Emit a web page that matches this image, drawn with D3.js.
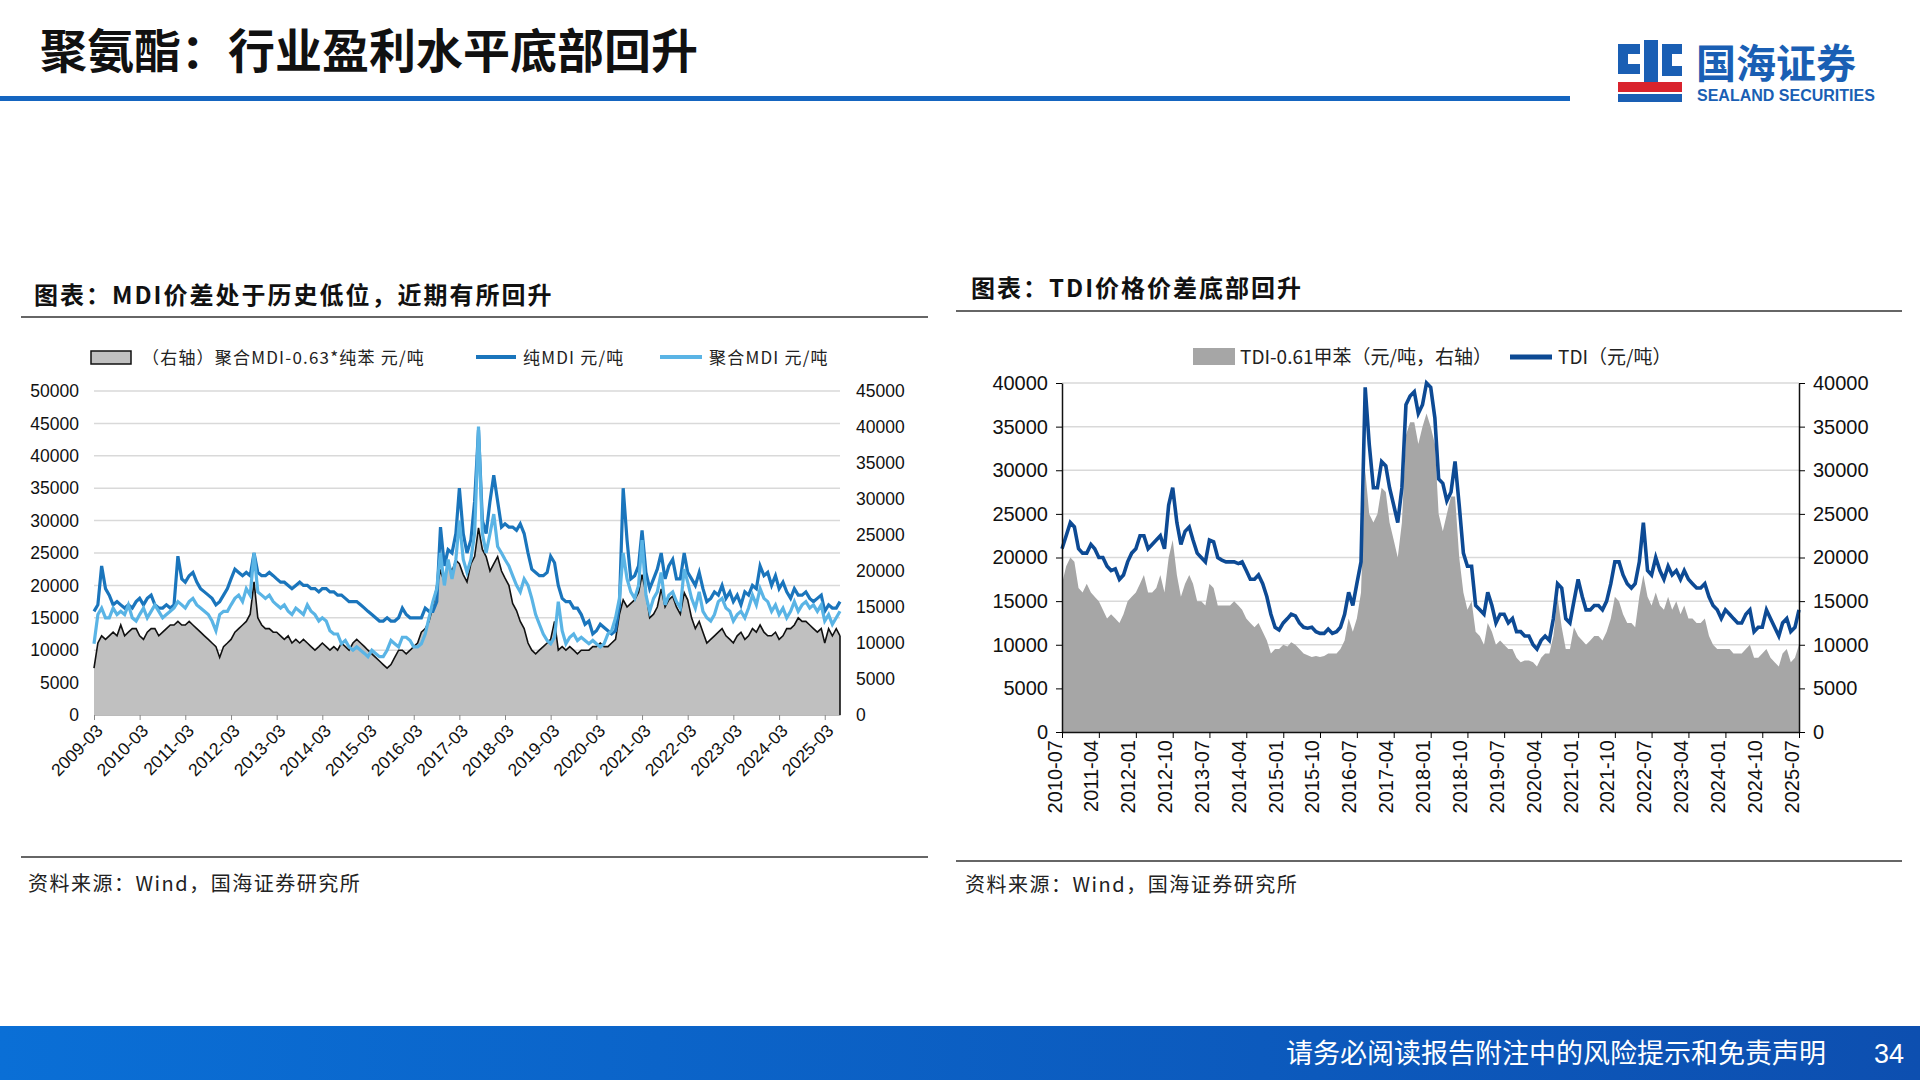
<!DOCTYPE html>
<html><head><meta charset="utf-8">
<script src="https://cdn.jsdelivr.net/npm/d3@7"></script>
<style>body{margin:0;background:#fff;}svg{display:block;font-family:"Noto Sans CJK SC","Noto Sans",sans-serif;}</style>
</head><body><svg id="c" width="1920" height="1080"></svg>
<script>
// ===== MDI chart data (monthly from 2009-03) =====
const mdiStart = "2009-03";
const pureMDI = [16000,17000,23000,19500,18500,17000,17500,17000,16500,17000,
16500,17500,18000,17000,18000,18500,17000,16500,16500,17000,16500,17000,
24500,21000,20500,21500,22000,20500,19500,19000,18500,18000,17000,17500,
18500,19500,21000,22500,22000,21500,22000,21500,25000,22000,21500,21500,
22000,21500,21000,20500,20500,20000,19500,20000,20500,20000,20000,19500,
19500,19000,19500,19500,19000,19000,18500,18500,18000,17500,17500,17500,
17000,16500,16000,15500,15000,14500,14500,15000,14500,14500,15000,16500,
15500,15000,15000,15000,15000,16500,16000,16000,17500,29000,23000,25500,
25000,28000,35000,28000,25000,27000,33000,44000,30000,28000,33000,37000,
33000,29000,29500,29000,29000,28500,29500,28000,25000,22500,22000,21500,
21500,22000,24500,23500,20000,18000,17500,17500,16500,16500,15500,14000,
14500,12500,13000,14000,13500,13000,12500,13000,17000,35000,27000,21000,
21500,23000,28500,22000,19500,21000,22500,25000,21000,23000,24000,21000,
21000,25000,22000,21000,20000,22000,19500,17500,18000,19000,18500,20000,
18000,19000,17500,18500,17000,19000,18500,20000,19500,23000,21500,22000,
20000,21500,19500,20500,19000,18000,19500,18500,18500,19000,18000,17500,
18000,18500,16000,17000,16500,16500,17500];
const polyMDI = [11000,15500,16500,15000,15000,16500,15500,16000,15500,17000,
15000,14500,15500,16500,15000,16000,17000,16000,15000,15500,16000,16500,
17500,17000,16500,17500,18000,17000,16500,16000,15500,14500,13000,15500,
16000,16000,17000,18000,18500,17500,19500,18500,25000,19000,18500,18000,
18500,17500,17000,16500,17000,16000,15500,16500,16000,15500,17000,16000,
15500,14500,15000,14500,13000,12500,12500,11000,11500,10500,10000,10500,
10000,9500,9000,10000,9500,9000,9000,10000,11500,11000,10500,12000,
12000,11500,10500,10500,11000,12500,15000,17500,19500,25000,20000,24000,
21000,24000,30000,24000,22000,24000,28000,44500,28000,25000,28000,31000,
26000,25000,24000,23000,21500,20000,19000,21000,20000,18000,15500,14000,
12500,11500,11000,12000,17500,13000,11000,12000,12500,11500,12000,11500,
11000,11500,11000,10500,11000,12500,13000,15000,18000,25000,21000,19000,
18000,20000,27000,18500,16000,18000,19000,22000,17000,18500,19000,17500,
16500,22500,20500,18000,16500,19000,16000,15000,14500,15500,17500,18000,
16500,16000,14500,15500,16000,15000,16500,18500,17000,19500,18000,17500,
16000,17000,15500,16500,15000,16000,17500,16000,17000,17500,16500,17000,
16000,17000,14500,15500,14000,15000,16000];
const spreadMDI = [6500,10000,11000,10500,11000,11500,11000,12500,11000,11500,
12000,12000,11000,10500,11500,12000,12000,11000,11500,12000,12500,12500,
13000,12500,12500,13000,12500,12000,11500,11000,10500,10000,9500,8000,
9500,10000,10500,11500,12000,12500,13000,14000,18500,13500,12500,12000,
12000,11500,11500,11000,10500,11000,10000,10500,10000,10500,10000,9500,
9000,9500,10000,9500,9000,9500,9000,10000,9500,9000,10000,10500,
10000,9500,9000,8500,8000,7500,7000,6500,7000,8000,9000,9000,
8500,9000,9500,10000,11500,12000,13000,15000,18000,20000,18500,21000,
20000,21500,21000,19500,18500,21000,22000,26000,23000,22000,20000,21000,
22000,20000,19000,18000,15500,14500,13000,12000,10000,9000,8500,9000,
9500,10000,10500,13000,9000,9500,9000,9500,9000,8500,9000,9000,
9000,9500,9500,10000,9500,9500,10000,10500,14000,16000,15000,15500,
16000,17000,19500,17000,13500,14000,15000,17500,15000,16000,16500,15000,
14000,17000,16000,13500,12000,13000,11500,10000,10500,11000,11500,12000,
11000,10500,10000,11000,11500,10500,11000,12000,11500,12500,11500,11000,
11000,11500,10500,11000,12000,12000,12500,13500,13000,13000,12500,12000,
11500,12000,10000,12000,11000,12000,11000];
const mdiTicks = ["2009-03","2010-03","2011-03","2012-03","2013-03","2014-03","2015-03","2016-03","2017-03","2018-03","2019-03","2020-03","2021-03","2022-03","2023-03","2024-03","2025-03"];
const mdiLegend = ["（右轴）聚合MDI-0.63*纯苯 元/吨","纯MDI 元/吨","聚合MDI 元/吨"];

// ===== TDI chart data (monthly from 2010-07) =====
const tdiStart = "2010-07";
const tdiPrice = [21000,22500,24000,23500,21000,20500,
20500,21500,21000,20000,20000,19000,18500,18700,17500,18000,19500,20500,
21000,22500,22500,21000,21500,22000,22500,21000,26000,28000,24000,21500,
23000,23500,22000,20500,20000,19500,22000,21800,20000,19700,19500,19500,
19500,19300,19500,18500,17500,17500,18000,17000,15500,13500,12000,11700,
12500,13000,13500,13300,12500,12000,11900,12000,11500,11300,11300,11800,
11300,11500,12000,13500,16000,14500,17000,19500,39500,33000,28000,28000,
31000,30500,28000,26000,24000,28000,37500,38500,39000,36500,37500,40000,
39500,36000,29000,28500,26500,27500,31000,26000,20500,19000,19000,14500,
14000,13500,16000,14500,12500,13500,13500,12500,13000,11500,11500,11000,
11000,10000,9500,10500,11000,10500,13000,17000,16500,13000,12500,15000,
17500,15500,14000,14000,14500,14500,14000,15000,17000,19500,19500,18000,
17000,16500,17000,19500,24000,18500,18000,20000,18500,17500,19000,18000,
18500,17500,18500,17500,17000,16500,16500,17000,15500,14500,14000,13000,
14000,13500,13000,12500,12500,13500,14000,11500,12000,12000,14000,13000,
12000,11000,12500,13000,11500,12000,14000];
const tdiSpread = [17000,19000,20000,19500,16500,16000,
17000,16000,15500,15000,14000,13000,13500,13000,12500,13500,15000,15500,
16000,17000,18000,16000,16000,16500,18000,16000,20000,22000,18000,15500,
17000,18000,17000,15000,15000,14500,17000,16500,14500,14500,14500,14500,
15000,14500,14000,13000,12500,12000,12500,11500,10500,9000,9500,9500,
10000,9800,10300,10000,9500,9000,8800,8600,8700,8600,8700,9000,
9000,9000,9500,10500,13000,11500,13000,16000,30000,25000,24000,25000,
28000,27500,24000,22000,20000,24000,34000,35500,35500,33000,35000,36500,
35000,33000,25000,23000,25000,27000,27000,20000,16000,14000,15000,11500,
11000,10000,12500,11500,10000,10500,10000,9500,9500,8500,8000,8200,
8200,8000,7500,8500,9000,9000,11000,15500,12000,9500,9500,12000,
11000,10500,10000,10500,11000,11000,10500,11500,13000,15500,15000,13500,
12500,12500,12000,15500,18000,15500,14500,16000,14500,14000,15500,14000,
15000,13500,14500,13000,13000,12500,12500,13000,11000,10000,9500,9500,
9500,9500,9000,9000,9000,9500,10000,8500,8500,9000,9500,8500,
8000,7500,9000,9500,8000,8500,10000];
const tdiTicks = ["2010-07","2011-04","2012-01","2012-10","2013-07","2014-04","2015-01","2015-10","2016-07","2017-04","2018-01","2018-10","2019-07","2020-04","2021-01","2021-10","2022-07","2023-04","2024-01","2024-10","2025-07"];
const tdiLegend = ["TDI-0.61甲苯（元/吨，右轴）","TDI（元/吨）"];

const svg = d3.select("#c");
const parse = d3.timeParse("%Y-%m");
const monthSeq = (start, n) => d3.range(n).map(i => d3.timeMonth.offset(parse(start), i));
const SANS = "Arial, 'Liberation Sans', 'Noto Sans CJK SC', sans-serif";
const SERIF = "'Noto Sans CJK SC', sans-serif";
const fmt = d3.format("d");

// ===== header =====
svg.append("text").attr("x",40).attr("y",68).attr("font-size",47).attr("font-weight",700)
  .attr("font-family",SERIF).attr("fill","#111").text("聚氨酯：行业盈利水平底部回升");
svg.append("rect").attr("x",0).attr("y",96).attr("width",1570).attr("height",5).attr("fill","#1565c0");
const lg = svg.append("g").attr("transform","translate(1616,38)");
lg.append("path").attr("d","M2,6 h22 v10 h-12 v10 h12 v10 h-22 z M28,2 h14 v42 h-14 z M46,6 h20 v10 h-10 v12 h10 v10 h-20 z").attr("fill","#1a5fb4");
lg.append("rect").attr("x",2).attr("y",44).attr("width",64).attr("height",10).attr("fill","#d9232d");
lg.append("rect").attr("x",2).attr("y",56).attr("width",64).attr("height",8).attr("fill","#1a5fb4");
lg.append("text").attr("x",80).attr("y",40).attr("font-size",40).attr("font-weight",700).attr("fill","#1a5fb4").attr("font-family",SERIF).text("国海证券");
lg.append("text").attr("x",81).attr("y",63).attr("font-size",16).attr("font-weight",700).attr("fill","#1a5fb4").attr("font-family",SANS).text("SEALAND SECURITIES");
const grad = svg.append("defs").append("linearGradient").attr("id","fg");
grad.append("stop").attr("offset","0").attr("stop-color","#0a6fd6");
grad.append("stop").attr("offset","1").attr("stop-color","#0d4fb0");
svg.append("rect").attr("x",0).attr("y",1026).attr("width",1920).attr("height",54).attr("fill","url(#fg)");
svg.append("text").attr("x",1826).attr("y",1063).attr("text-anchor","end").attr("font-size",27).attr("fill","#fff").attr("font-family",SERIF).text("请务必阅读报告附注中的风险提示和免责声明");
svg.append("text").attr("x",1904).attr("y",1063).attr("text-anchor","end").attr("font-size",27).attr("fill","#fff").attr("font-family",SANS).text("34");

function section(x, y, x1, x2, ly, title, by, srcY){
  svg.append("text").attr("x",x).attr("y",y).attr("font-size",24).attr("font-weight",700).attr("letter-spacing",2).attr("font-family",SERIF).attr("fill","#111").text(title);
  svg.append("line").attr("x1",x1).attr("x2",x2).attr("y1",ly).attr("y2",ly).attr("stroke","#333").attr("stroke-width",1.5);
  svg.append("line").attr("x1",x1).attr("x2",x2).attr("y1",by).attr("y2",by).attr("stroke","#333").attr("stroke-width",1.5);
  svg.append("text").attr("x",x-6).attr("y",srcY).attr("font-size",20).attr("letter-spacing",1.5).attr("font-family",SERIF).attr("fill","#222").text("资料来源：Wind，国海证券研究所");
}
section(34,304,21,928,317,"图表：MDI价差处于历史低位，近期有所回升",857,891);
section(971,297,956,1902,311,"图表：TDI价格价差底部回升",861,892);

// ===== MDI chart =====
(function(){
  const L=94,R=840,T=391,B=715;
  const dates = monthSeq(mdiStart, pureMDI.length);
  const x = d3.scaleTime().domain([dates[0], dates[dates.length-1]]).range([L,R]);
  const yL = d3.scaleLinear().domain([0,50000]).range([B,T]);
  const yR = d3.scaleLinear().domain([0,45000]).range([B,T]);
  const g = svg.append("g");
  yL.ticks(10).forEach(v=>{ if(v>0) g.append("line").attr("x1",L).attr("x2",R).attr("y1",yL(v)).attr("y2",yL(v)).attr("stroke","#d9d9d9").attr("stroke-width",1.5);});
  const area = d3.area().x((d,i)=>x(dates[i])).y0(yR(0)).y1(d=>yR(d));
  g.append("path").datum(spreadMDI).attr("d",area).attr("fill","#c0c0c0");
  g.append("path").datum(spreadMDI).attr("d",d3.line().x((d,i)=>x(dates[i])).y(d=>yR(d))).attr("fill","none").attr("stroke","#111").attr("stroke-width",1.6);
  g.append("line").attr("x1",R).attr("x2",R).attr("y1",yR(spreadMDI[spreadMDI.length-1])).attr("y2",B).attr("stroke","#111").attr("stroke-width",1.6);
  const ln = d3.line().x((d,i)=>x(dates[i])).y(d=>yL(d));
  g.append("path").datum(pureMDI).attr("d",ln).attr("fill","none").attr("stroke","#1a75bc").attr("stroke-width",3.2);
  g.append("path").datum(polyMDI).attr("d",ln).attr("fill","none").attr("stroke","#5ab4e5").attr("stroke-width",3.2);
  const ax = g.append("g").attr("transform",`translate(0,${B})`).call(d3.axisBottom(x).tickValues(mdiTicks.map(parse)).tickFormat(d3.timeFormat("%Y-%m")).tickSize(5).tickSizeOuter(0));
  ax.select(".domain").attr("stroke","#bbb");
  ax.selectAll(".tick line").attr("stroke","#888");
  ax.selectAll("text").attr("font-size",17.5).attr("font-family",SANS).attr("fill","#111").attr("text-anchor","end").attr("dx","-0.3em").attr("dy","0.6em").attr("transform","rotate(-45)");
  const al = g.append("g").attr("transform",`translate(${L-12},0)`).call(d3.axisLeft(yL).ticks(10).tickFormat(fmt).tickSize(0));
  al.select(".domain").remove();
  al.selectAll("text").attr("font-size",17.5).attr("font-family",SANS).attr("fill","#111");
  const ar = g.append("g").attr("transform",`translate(${R+13},0)`).call(d3.axisRight(yR).ticks(9).tickFormat(fmt).tickSize(0));
  ar.select(".domain").remove();
  ar.selectAll("text").attr("font-size",17.5).attr("font-family",SANS).attr("fill","#111");
  const lgd = g.append("g").attr("font-family",SERIF).attr("font-size",17).attr("letter-spacing",1.2).attr("fill","#222");
  lgd.append("rect").attr("x",91).attr("y",351).attr("width",40).attr("height",13).attr("fill","#c0c0c0").attr("stroke","#111").attr("stroke-width",1.5);
  lgd.append("text").attr("x",142).attr("y",364).text(mdiLegend[0]);
  lgd.append("line").attr("x1",476).attr("x2",516).attr("y1",357).attr("y2",357).attr("stroke","#1a75bc").attr("stroke-width",4);
  lgd.append("text").attr("x",523).attr("y",364).text(mdiLegend[1]);
  lgd.append("line").attr("x1",660).attr("x2",702).attr("y1",357).attr("y2",357).attr("stroke","#5ab4e5").attr("stroke-width",4);
  lgd.append("text").attr("x",709).attr("y",364).text(mdiLegend[2]);
})();

// ===== TDI chart =====
(function(){
  const L=1062,R=1799,T=383,B=732;
  const dates = monthSeq(tdiStart, tdiPrice.length);
  const x = d3.scaleTime().domain([dates[0], dates[dates.length-1]]).range([L,R]);
  const y = d3.scaleLinear().domain([0,40000]).range([B,T]);
  const g = svg.append("g");
  y.ticks(8).forEach(v=>{ if(v>0) g.append("line").attr("x1",L).attr("x2",R).attr("y1",y(v)).attr("y2",y(v)).attr("stroke","#d9d9d9").attr("stroke-width",1.5);});
  g.append("path").datum(tdiSpread).attr("d",d3.area().x((d,i)=>x(dates[i])).y0(B).y1(d=>y(d))).attr("fill","#a6a6a6");
  g.append("path").datum(tdiPrice).attr("d",d3.line().x((d,i)=>x(dates[i])).y(d=>y(d))).attr("fill","none").attr("stroke","#0d4a94").attr("stroke-width",3.6);
  const al = g.append("g").attr("transform",`translate(${L},0)`).call(d3.axisLeft(y).ticks(8).tickFormat(fmt).tickSize(6).tickPadding(8).tickSizeOuter(0));
  al.select(".domain").attr("stroke","#111").attr("stroke-width",1.5);
  al.selectAll("text").attr("font-size",20).attr("font-family",SANS).attr("fill","#111");
  const ar = g.append("g").attr("transform",`translate(${R},0)`).call(d3.axisRight(y).ticks(8).tickFormat(fmt).tickSize(6).tickPadding(8).tickSizeOuter(0));
  ar.select(".domain").attr("stroke","#111").attr("stroke-width",1.5);
  ar.selectAll("text").attr("font-size",20).attr("font-family",SANS).attr("fill","#111");
  const ax = g.append("g").attr("transform",`translate(0,${B})`).call(d3.axisBottom(x).tickValues(tdiTicks.map(parse)).tickFormat(d3.timeFormat("%Y-%m")).tickSize(6).tickSizeOuter(0));
  ax.select(".domain").attr("stroke","#111").attr("stroke-width",1.5);
  ax.selectAll("text").attr("font-size",20).attr("font-family",SANS).attr("fill","#111").attr("text-anchor","end").attr("transform","rotate(-90)").attr("dx","-0.4em").attr("dy","-0.5em").attr("x",0).attr("y",9);
  const lgd = g.append("g").attr("font-size",19).attr("fill","#222");
  lgd.append("rect").attr("x",1193).attr("y",348).attr("width",42).attr("height",17).attr("fill","#a6a6a6");
  lgd.append("text").attr("x",1240).attr("y",364).attr("font-family",SERIF).text(tdiLegend[0]);
  lgd.append("line").attr("x1",1510).attr("x2",1552).attr("y1",357).attr("y2",357).attr("stroke","#0d4a94").attr("stroke-width",5);
  lgd.append("text").attr("x",1558).attr("y",364).attr("font-family",SERIF).text(tdiLegend[1]);
})();
</script></body></html>
